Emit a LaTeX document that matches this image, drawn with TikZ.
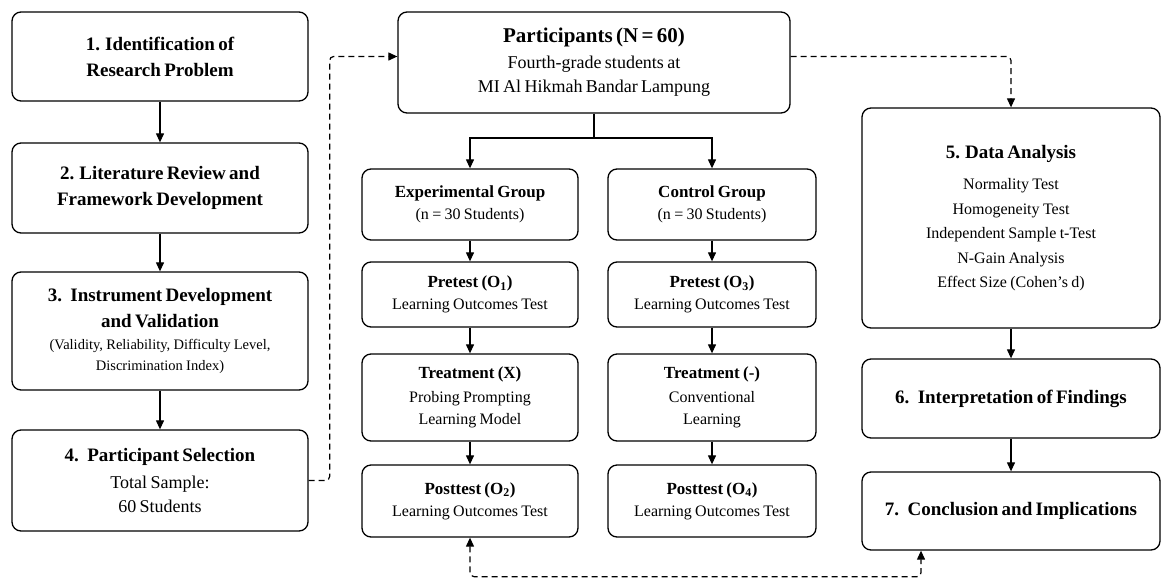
\documentclass[tikz,border=0pt]{standalone}
\usepackage{fontspec}
\setmainfont{Liberation Serif}
\usetikzlibrary{arrows.meta}

\newcommand{\stepfont}{\bfseries\fontsize{19}{26}\selectfont}
\newcommand{\headfont}{\bfseries\fontsize{21}{26}\selectfont}
\newcommand{\groupfont}{\bfseries\fontsize{17}{23}\selectfont}
\newcommand{\notefont}{\fontsize{16}{22}\selectfont}
\newcommand{\bigfont}{\fontsize{18}{24}\selectfont}
\newcommand{\smallnote}{\fontsize{14.5}{21}\selectfont}

\tikzset{
  box/.style={draw, rounded corners=9pt, line width=1.3pt, align=center, inner sep=0pt},
  conn/.style={->, line width=1.2pt},
  dconn/.style={conn, dash pattern=on 6pt off 4pt, rounded corners=4pt},
}

\begin{document}
\begin{tikzpicture}[x=1pt,y=-1pt,>={Triangle[length=9pt,width=8pt]}]
\useasboundingbox (0,0) rectangle (1162,579);

% Draw left column
\node[box, text width=296pt, minimum height=89pt] (b1) at (160,56.5)
  {{\stepfont 1. Identification of\\Research Problem\par}};
\node[box, text width=296pt, minimum height=90pt] (b2) at (160,188)
  {{\stepfont 2. Literature Review and\\Framework Development\par}};
\node[box, text width=296pt, minimum height=118pt] (b3) at (160,331)
  {{\stepfont 3.~ Instrument Development\\and Validation\par}\vspace{1pt}
   {\smallnote (Validity, Reliability, Difficulty Level,\\Discrimination Index)\par}};
\node[box, text width=296pt, minimum height=101pt] (b4) at (160,480.5)
  {{\stepfont 4.~ Participant Selection\par}\vspace{3pt}
   {\bigfont Total Sample:\\60 Students\par}};

% Draw middle column
\node[box, text width=392pt, minimum height=101pt] (part) at (594,62.5)
  {{\headfont Participants (N = 60)\par}\vspace{2pt}
   {\bigfont Fourth-grade students at\\MI Al Hikmah Bandar Lampung\par}};
\node[box, text width=216pt, minimum height=71pt] (exp) at (470,204.5)
  {{\groupfont Experimental Group\par}{\notefont (n = 30 Students)\par}};
\node[box, text width=208pt, minimum height=71pt] (ctrl) at (712,204.5)
  {{\groupfont Control Group\par}{\notefont (n = 30 Students)\par}};
\node[box, text width=216pt, minimum height=65pt] (pre1) at (470,294.5)
  {{\groupfont Pretest (O\textsubscript{1})\par}{\notefont Learning Outcomes Test\par}};
\node[box, text width=208pt, minimum height=65pt] (pre2) at (712,294.5)
  {{\groupfont Pretest (O\textsubscript{3})\par}{\notefont Learning Outcomes Test\par}};
\node[box, text width=216pt, minimum height=87pt] (treat1) at (470,397.5)
  {{\groupfont Treatment (X)\par}\vspace{2pt}{\notefont Probing Prompting\\Learning Model\par}};
\node[box, text width=208pt, minimum height=87pt] (treat2) at (712,397.5)
  {{\groupfont Treatment (-)\par}\vspace{2pt}{\notefont Conventional\\Learning\par}};
\node[box, text width=216pt, minimum height=72pt] (post1) at (470,501)
  {{\groupfont Posttest (O\textsubscript{2})\par}{\notefont Learning Outcomes Test\par}};
\node[box, text width=208pt, minimum height=72pt] (post2) at (712,501)
  {{\groupfont Posttest (O\textsubscript{4})\par}{\notefont Learning Outcomes Test\par}};

% Draw right column
\node[box, text width=298pt, minimum height=220pt] (b5) at (1011,218)
  {{\stepfont 5. Data Analysis\par}\vspace{7pt}
   {\fontsize{16}{24.5}\selectfont Normality Test\\Homogeneity Test\\Independent Sample t-Test\\N-Gain Analysis\\Effect Size (Cohen's d)\par}};
\node[box, text width=298pt, minimum height=79pt] (b6) at (1011,398.5)
  {{\stepfont 6.~ Interpretation of Findings\par}};
\node[box, text width=298pt, minimum height=78pt] (b7) at (1011,511)
  {{\stepfont 7.~ Conclusion and Implications\par}};

% Solid arrows
\draw[conn] (b1) -- (b2);
\draw[conn] (b2) -- (b3);
\draw[conn] (b3) -- (b4);
\coordinate (split) at (594,138);
\draw[line width=1.2pt] (part.south) -- (split);
\draw[conn] (split) -| (exp.north);
\draw[conn] (split) -| (ctrl.north);
\draw[conn] (exp) -- (pre1);
\draw[conn] (pre1) -- (treat1);
\draw[conn] (treat1) -- (post1);
\draw[conn] (ctrl) -- (pre2);
\draw[conn] (pre2) -- (treat2);
\draw[conn] (treat2) -- (post2);
\draw[conn] (b5) -- (b6);
\draw[conn] (b6) -- (b7);

% Dashed links
\draw[dconn] (b4.east) -- ++(21,0) |- ([yshift=6pt]part.west);
\draw[dconn] ([yshift=6pt]part.east) -| (b5.north);
\draw[dconn, <->] (post1.south) -- ++(0,39) -| ([xshift=-90pt]b7.south);
\end{tikzpicture}
\end{document}
